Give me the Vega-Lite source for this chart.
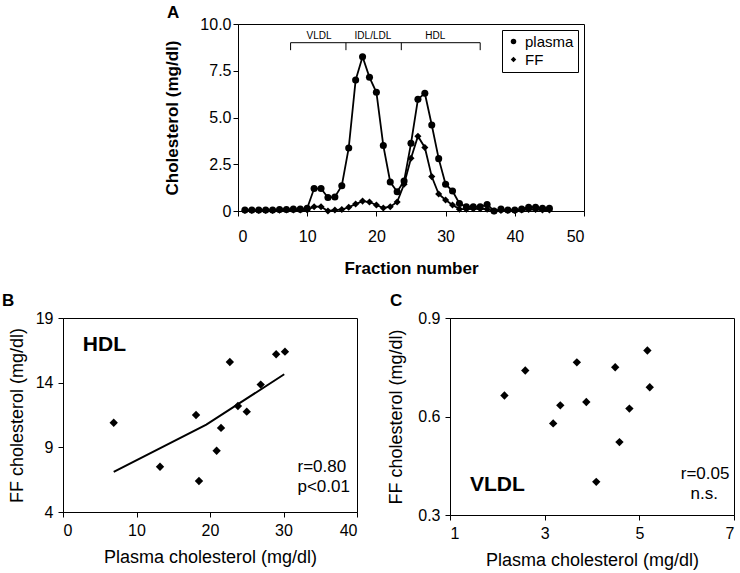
{
  "$schema": "https://vega.github.io/schema/vega-lite/v6.json",
  "padding": {"left": 1, "top": 3, "right": 2, "bottom": 5},
  "bounds": "flush",
  "spacing": 294,
  "resolve": {"scale": {"shape": "independent"}, "legend": {"shape": "independent"}},
  "config": {
    "font": "Liberation Sans",
    "view": {"stroke": "black", "strokeWidth": 1},
    "axis": {"grid": false, "domainColor": "black", "tickColor": "black", "labelColor": "black", "titleColor": "black", "tickSize": 5, "labelFontSize": 16, "titleFontSize": 18, "titleFontWeight": "normal", "labelFont": "Liberation Sans", "titleFont": "Liberation Sans"},
    "title": {"fontSize": 17, "fontWeight": "bold", "color": "black", "anchor": "start", "baseline": "alphabetic", "frame": "group"}
  },
  "datasets": {
    "profile": [
      {"fraction": 1, "series": "plasma", "value": 0.05}, {"fraction": 2, "series": "plasma", "value": 0.05}, {"fraction": 3, "series": "plasma", "value": 0.05}, {"fraction": 4, "series": "plasma", "value": 0.05}, {"fraction": 5, "series": "plasma", "value": 0.05},
      {"fraction": 6, "series": "plasma", "value": 0.08}, {"fraction": 7, "series": "plasma", "value": 0.08}, {"fraction": 8, "series": "plasma", "value": 0.1}, {"fraction": 9, "series": "plasma", "value": 0.1}, {"fraction": 10, "series": "plasma", "value": 0.15},
      {"fraction": 11, "series": "plasma", "value": 1.2}, {"fraction": 12, "series": "plasma", "value": 1.2}, {"fraction": 13, "series": "plasma", "value": 0.72}, {"fraction": 14, "series": "plasma", "value": 0.75}, {"fraction": 15, "series": "plasma", "value": 1.35},
      {"fraction": 16, "series": "plasma", "value": 3.37}, {"fraction": 17, "series": "plasma", "value": 7.0}, {"fraction": 18, "series": "plasma", "value": 8.25}, {"fraction": 19, "series": "plasma", "value": 7.15}, {"fraction": 20, "series": "plasma", "value": 6.35},
      {"fraction": 21, "series": "plasma", "value": 3.5}, {"fraction": 22, "series": "plasma", "value": 1.55}, {"fraction": 23, "series": "plasma", "value": 1.03}, {"fraction": 24, "series": "plasma", "value": 1.6}, {"fraction": 25, "series": "plasma", "value": 3.62},
      {"fraction": 26, "series": "plasma", "value": 5.97}, {"fraction": 27, "series": "plasma", "value": 6.3}, {"fraction": 28, "series": "plasma", "value": 4.6}, {"fraction": 29, "series": "plasma", "value": 2.8}, {"fraction": 30, "series": "plasma", "value": 1.43},
      {"fraction": 31, "series": "plasma", "value": 1.07}, {"fraction": 32, "series": "plasma", "value": 0.4}, {"fraction": 33, "series": "plasma", "value": 0.22}, {"fraction": 34, "series": "plasma", "value": 0.22}, {"fraction": 35, "series": "plasma", "value": 0.22},
      {"fraction": 36, "series": "plasma", "value": 0.35}, {"fraction": 37, "series": "plasma", "value": 0.0}, {"fraction": 38, "series": "plasma", "value": 0.1}, {"fraction": 39, "series": "plasma", "value": 0.05}, {"fraction": 40, "series": "plasma", "value": 0.05},
      {"fraction": 41, "series": "plasma", "value": 0.1}, {"fraction": 42, "series": "plasma", "value": 0.2}, {"fraction": 43, "series": "plasma", "value": 0.2}, {"fraction": 44, "series": "plasma", "value": 0.15}, {"fraction": 45, "series": "plasma", "value": 0.15},
      {"fraction": 1, "series": "FF", "value": 0.03}, {"fraction": 2, "series": "FF", "value": 0.03}, {"fraction": 3, "series": "FF", "value": 0.03}, {"fraction": 4, "series": "FF", "value": 0.03}, {"fraction": 5, "series": "FF", "value": 0.03},
      {"fraction": 6, "series": "FF", "value": 0.04}, {"fraction": 7, "series": "FF", "value": 0.05}, {"fraction": 8, "series": "FF", "value": 0.05}, {"fraction": 9, "series": "FF", "value": 0.05}, {"fraction": 10, "series": "FF", "value": 0.06},
      {"fraction": 11, "series": "FF", "value": 0.23}, {"fraction": 12, "series": "FF", "value": 0.23}, {"fraction": 13, "series": "FF", "value": 0.0}, {"fraction": 14, "series": "FF", "value": 0.05}, {"fraction": 15, "series": "FF", "value": 0.08},
      {"fraction": 16, "series": "FF", "value": 0.2}, {"fraction": 17, "series": "FF", "value": 0.37}, {"fraction": 18, "series": "FF", "value": 0.53}, {"fraction": 19, "series": "FF", "value": 0.48}, {"fraction": 20, "series": "FF", "value": 0.32},
      {"fraction": 21, "series": "FF", "value": 0.16}, {"fraction": 22, "series": "FF", "value": 0.23}, {"fraction": 23, "series": "FF", "value": 0.48}, {"fraction": 24, "series": "FF", "value": 1.43}, {"fraction": 25, "series": "FF", "value": 2.82},
      {"fraction": 26, "series": "FF", "value": 4.0}, {"fraction": 27, "series": "FF", "value": 3.4}, {"fraction": 28, "series": "FF", "value": 1.84}, {"fraction": 29, "series": "FF", "value": 0.91}, {"fraction": 30, "series": "FF", "value": 0.59},
      {"fraction": 31, "series": "FF", "value": 0.32}, {"fraction": 32, "series": "FF", "value": 0.1}, {"fraction": 33, "series": "FF", "value": 0.1}, {"fraction": 34, "series": "FF", "value": 0.12}, {"fraction": 35, "series": "FF", "value": 0.12},
      {"fraction": 36, "series": "FF", "value": 0.1}, {"fraction": 37, "series": "FF", "value": 0.0}, {"fraction": 38, "series": "FF", "value": 0.03}, {"fraction": 39, "series": "FF", "value": 0.03}, {"fraction": 40, "series": "FF", "value": 0.03},
      {"fraction": 41, "series": "FF", "value": 0.05}, {"fraction": 42, "series": "FF", "value": 0.08}, {"fraction": 43, "series": "FF", "value": 0.08}, {"fraction": 44, "series": "FF", "value": 0.05}, {"fraction": 45, "series": "FF", "value": 0.05}
    ],
    "bracketLine": [
      {"x": 7.6, "x2": 35.0, "y": 9.0, "y2": 9.0},
      {"x": 7.6, "x2": 7.6, "y": 9.0, "y2": 8.6},
      {"x": 15.6, "x2": 15.6, "y": 9.0, "y2": 8.6},
      {"x": 23.6, "x2": 23.6, "y": 9.0, "y2": 8.6},
      {"x": 35.0, "x2": 35.0, "y": 9.0, "y2": 8.6}
    ],
    "bracketText": [
      {"x": 11.7, "y": 9.38, "label": "VLDL"},
      {"x": 19.5, "y": 9.38, "label": "IDL/LDL"},
      {"x": 28.5, "y": 9.38, "label": "HDL"}
    ],
    "hdl": [
      {"plasma": 6.9, "ff": 10.9}, {"plasma": 13.2, "ff": 7.5}, {"plasma": 18.1, "ff": 11.5}, {"plasma": 18.5, "ff": 6.4},
      {"plasma": 20.9, "ff": 8.74}, {"plasma": 21.5, "ff": 10.5}, {"plasma": 22.7, "ff": 15.6}, {"plasma": 23.8, "ff": 12.2},
      {"plasma": 25.0, "ff": 11.76}, {"plasma": 26.9, "ff": 13.85}, {"plasma": 29.0, "ff": 16.2}, {"plasma": 30.2, "ff": 16.4}
    ],
    "hdlFit": [
      {"plasma": 6.9, "ff": 7.1}, {"plasma": 19.5, "ff": 10.75}, {"plasma": 30.1, "ff": 14.65}
    ],
    "hdlStat": [
      {"x": 31.9, "y": 7.5, "label": "r=0.80"},
      {"x": 31.9, "y": 5.96, "label": "p<0.01"}
    ],
    "vldl": [
      {"plasma": 2.15, "ff": 0.664}, {"plasma": 2.59, "ff": 0.74}, {"plasma": 3.18, "ff": 0.579}, {"plasma": 3.33, "ff": 0.634},
      {"plasma": 3.68, "ff": 0.765}, {"plasma": 3.88, "ff": 0.644}, {"plasma": 4.09, "ff": 0.401}, {"plasma": 4.49, "ff": 0.75},
      {"plasma": 4.58, "ff": 0.522}, {"plasma": 4.79, "ff": 0.624}, {"plasma": 5.17, "ff": 0.801}, {"plasma": 5.22, "ff": 0.689}
    ],
    "vldlStat": [
      {"x": 6.39, "y": 0.424, "label": "r=0.05"},
      {"x": 6.37, "y": 0.364, "label": "n.s."}
    ]
  },
  "vconcat": [
    {
      "bounds": "flush",
      "spacing": 0,
      "resolve": {"scale": {"shape": "independent"}, "legend": {"shape": "independent"}},
      "hconcat": [
        {
          "width": 175, "height": 187,
          "view": {"stroke": null},
          "data": {"values": [{"v": 0}]},
          "mark": {"type": "point", "opacity": 0},
          "encoding": {}
        },
        {
          "width": 346, "height": 187,
          "title": {"text": "A", "dx": -71, "offset": -6},
          "layer": [
            {
              "data": {"name": "profile"},
              "mark": {"type": "line", "color": "black", "strokeWidth": 1.8},
              "encoding": {
                "x": {"field": "fraction", "type": "quantitative", "scale": {"domain": [0, 50], "nice": false},
                      "axis": {"values": [0, 10, 20, 30, 40, 50], "title": "Fraction number", "titleFontWeight": "bold", "titleFontSize": 17, "labelPadding": 12, "titlePadding": 16}},
                "y": {"field": "value", "type": "quantitative", "scale": {"domain": [0, 10], "nice": false},
                      "axis": {"values": [0, 2.5, 5, 7.5, 10], "labelExpr": "datum.value == 0 ? '0' : format(datum.value, '.1f')", "title": "Cholesterol (mg/dl)", "titleFontWeight": "bold", "titleFontSize": 17, "labelPadding": 2, "titlePadding": 18}},
                "detail": {"field": "series"}
              }
            },
            {
              "data": {"name": "profile"},
              "mark": {"type": "point", "filled": true, "color": "black", "opacity": 1, "size": 50},
              "encoding": {
                "x": {"field": "fraction", "type": "quantitative"},
                "y": {"field": "value", "type": "quantitative"},
                "shape": {"field": "series", "type": "nominal", "scale": {"domain": ["plasma", "FF"], "range": ["circle", "diamond"]},
                          "legend": {"title": null, "orient": "none", "legendX": 264, "legendY": 6, "strokeColor": "black", "fillColor": "white", "padding": 4, "labelFontSize": 15, "labelColor": "black", "symbolSize": 30, "symbolFillColor": "black", "symbolStrokeColor": "black", "rowPadding": 2, "labelOffset": 4, "symbolOffset": 0}}
              }
            },
            {
              "data": {"name": "bracketLine"},
              "mark": {"type": "rule", "color": "black", "strokeWidth": 1},
              "encoding": {
                "x": {"field": "x", "type": "quantitative"},
                "x2": {"field": "x2"},
                "y": {"field": "y", "type": "quantitative"},
                "y2": {"field": "y2"}
              }
            },
            {
              "data": {"name": "bracketText"},
              "mark": {"type": "text", "fontSize": 10, "color": "black", "baseline": "middle", "align": "center"},
              "encoding": {
                "x": {"field": "x", "type": "quantitative"},
                "y": {"field": "y", "type": "quantitative"},
                "text": {"field": "label"}
              }
            }
          ]
        }
      ]
    },
    {
      "bounds": "flush",
      "spacing": 93,
      "hconcat": [
        {
          "width": 294, "height": 194,
          "title": {"text": "B", "dx": -61, "offset": 0},
          "layer": [
            {
              "data": {"name": "hdl"},
              "mark": {"type": "point", "shape": "diamond", "filled": true, "color": "black", "opacity": 1, "size": 70},
              "encoding": {
                "x": {"field": "plasma", "type": "quantitative", "scale": {"domain": [0, 40], "nice": false},
                      "axis": {"values": [0, 10, 20, 30, 40], "title": "Plasma cholesterol (mg/dl)", "labelPadding": 5, "titlePadding": 10}},
                "y": {"field": "ff", "type": "quantitative", "scale": {"domain": [4, 19], "nice": false, "zero": false},
                      "axis": {"values": [4, 9, 14, 19], "title": "FF cholesterol (mg/dl)", "labelPadding": 5, "titlePadding": 9}}
              }
            },
            {
              "data": {"name": "hdlFit"},
              "mark": {"type": "line", "color": "black", "strokeWidth": 2},
              "encoding": {
                "x": {"field": "plasma", "type": "quantitative"},
                "y": {"field": "ff", "type": "quantitative"}
              }
            },
            {
              "data": {"values": [{"x": 2.7, "y": 16.9, "label": "HDL"}]},
              "mark": {"type": "text", "align": "left", "baseline": "middle", "color": "black", "fontSize": 21, "fontWeight": "bold"},
              "encoding": {
                "x": {"field": "x", "type": "quantitative"},
                "y": {"field": "y", "type": "quantitative"},
                "text": {"field": "label"}
              }
            },
            {
              "data": {"name": "hdlStat"},
              "mark": {"type": "text", "align": "left", "baseline": "middle", "color": "black", "fontSize": 17},
              "encoding": {
                "x": {"field": "x", "type": "quantitative"},
                "y": {"field": "y", "type": "quantitative"},
                "text": {"field": "label"}
              }
            }
          ]
        },
        {
          "width": 284, "height": 197,
          "title": {"text": "C", "dx": -60, "offset": 0},
          "layer": [
            {
              "data": {"name": "vldl"},
              "mark": {"type": "point", "shape": "diamond", "filled": true, "color": "black", "opacity": 1, "size": 70},
              "encoding": {
                "x": {"field": "plasma", "type": "quantitative", "scale": {"domain": [1, 7], "nice": false, "zero": false},
                      "axis": {"values": [1, 3, 5, 7], "title": "Plasma cholesterol (mg/dl)", "labelPadding": 5, "titlePadding": 10}},
                "y": {"field": "ff", "type": "quantitative", "scale": {"domain": [0.3, 0.9], "nice": false, "zero": false},
                      "axis": {"values": [0.3, 0.6, 0.9], "format": ".1f", "title": "FF cholesterol (mg/dl)", "labelPadding": 5, "titlePadding": 12}}
              }
            },
            {
              "data": {"values": [{"x": 1.42, "y": 0.392, "label": "VLDL"}]},
              "mark": {"type": "text", "align": "left", "baseline": "middle", "color": "black", "fontSize": 21, "fontWeight": "bold"},
              "encoding": {
                "x": {"field": "x", "type": "quantitative"},
                "y": {"field": "y", "type": "quantitative"},
                "text": {"field": "label"}
              }
            },
            {
              "data": {"name": "vldlStat"},
              "mark": {"type": "text", "align": "center", "baseline": "middle", "color": "black", "fontSize": 17},
              "encoding": {
                "x": {"field": "x", "type": "quantitative"},
                "y": {"field": "y", "type": "quantitative"},
                "text": {"field": "label"}
              }
            }
          ]
        }
      ]
    }
  ]
}
